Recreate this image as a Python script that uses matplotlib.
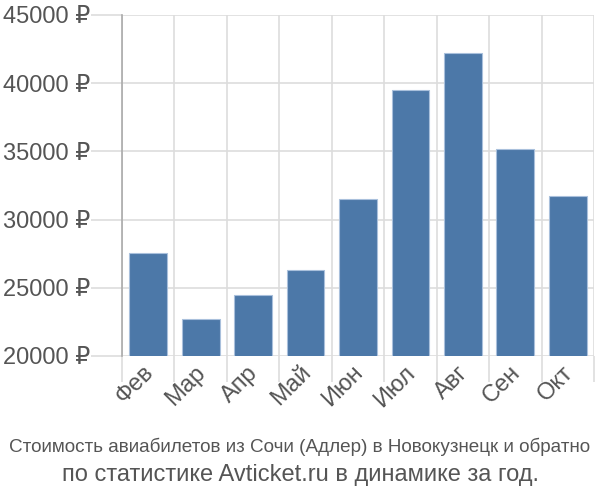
import matplotlib
matplotlib.use("Agg")
import matplotlib.pyplot as plt
import matplotlib.transforms as mtransforms
from matplotlib import font_manager

plt.rcParams['font.family'] = ['Liberation Sans', 'DejaVu Sans']

months = ['Фев', 'Мар', 'Апр', 'Май', 'Июн', 'Июл', 'Авг', 'Сен', 'Окт']
prices = [27550, 22730, 24440, 26340, 31530, 39490, 42200, 35150, 31750]
yticks = [20000, 25000, 30000, 35000, 40000, 45000]
title1 = 'Стоимость авиабилетов из Сочи (Адлер) в Новокузнецк и обратно'
title2 = 'по статистике Avticket.ru в динамике за год.'

bar_color = '#4c78a8'
grid_color = '#dddddd'
text_color = '#555555'

names = {f.name for f in font_manager.fontManager.ttflist}
narrow = 'Liberation Sans Narrow' if 'Liberation Sans Narrow' in names else 'Liberation Sans'

fig = plt.figure(figsize=(6, 5), dpi=100)
ax = fig.add_axes([122 / 600, 1 - 356 / 500, 472 / 600, 341 / 500])

x = list(range(len(months)))
ax.bar(x, prices, width=0.72, color=bar_color, edgecolor='#a9c0dc', linewidth=0.8, zorder=3)

ax.set_xlim(-0.5, len(months) - 0.5)
ax.set_ylim(20000, 45000)
ax.set_yticks(yticks)
ax.set_yticklabels([f'{v} ₽' for v in yticks])

# vertical grid at category borders
bounds = [i - 0.5 for i in range(len(months) + 1)]
ax.set_xticks(bounds, minor=True)
ax.set_xticks(x)
ax.set_xticklabels(months, rotation=45, ha='right', va='top', rotation_mode='anchor')
ax.grid(True, which='minor', axis='x', color=grid_color, linewidth=1.2, zorder=0)
ax.grid(True, which='major', axis='y', color=grid_color, linewidth=1.2, zorder=0)

ax.tick_params(axis='x', which='major', length=0, pad=4, labelsize=17, labelcolor=text_color)
ax.tick_params(axis='x', which='minor', length=19, color=grid_color, width=1.2)
ax.tick_params(axis='y', which='major', length=22, color=grid_color, width=1.2, pad=1,
               labelsize=17, labelcolor=text_color)

# move month labels a little left, as in the reference
offset = mtransforms.ScaledTranslation(-6 / 100, 0, fig.dpi_scale_trans)
for lab in ax.get_xticklabels():
    lab.set_transform(lab.get_transform() + offset)

for s in ['top', 'right', 'bottom']:
    ax.spines[s].set_visible(False)
ax.spines['left'].set_color('#aaaaaa')
ax.spines['left'].set_linewidth(1.2)

fig.text(0.5, 1 - 447 / 500, title1, ha='center', va='center', fontsize=13.6,
         color=text_color, family=[narrow, 'DejaVu Sans'])
fig.text(0.5, 1 - 475 / 500, title2, ha='center', va='center', fontsize=17,
         color=text_color)

fig.savefig('out.png', dpi=100)
